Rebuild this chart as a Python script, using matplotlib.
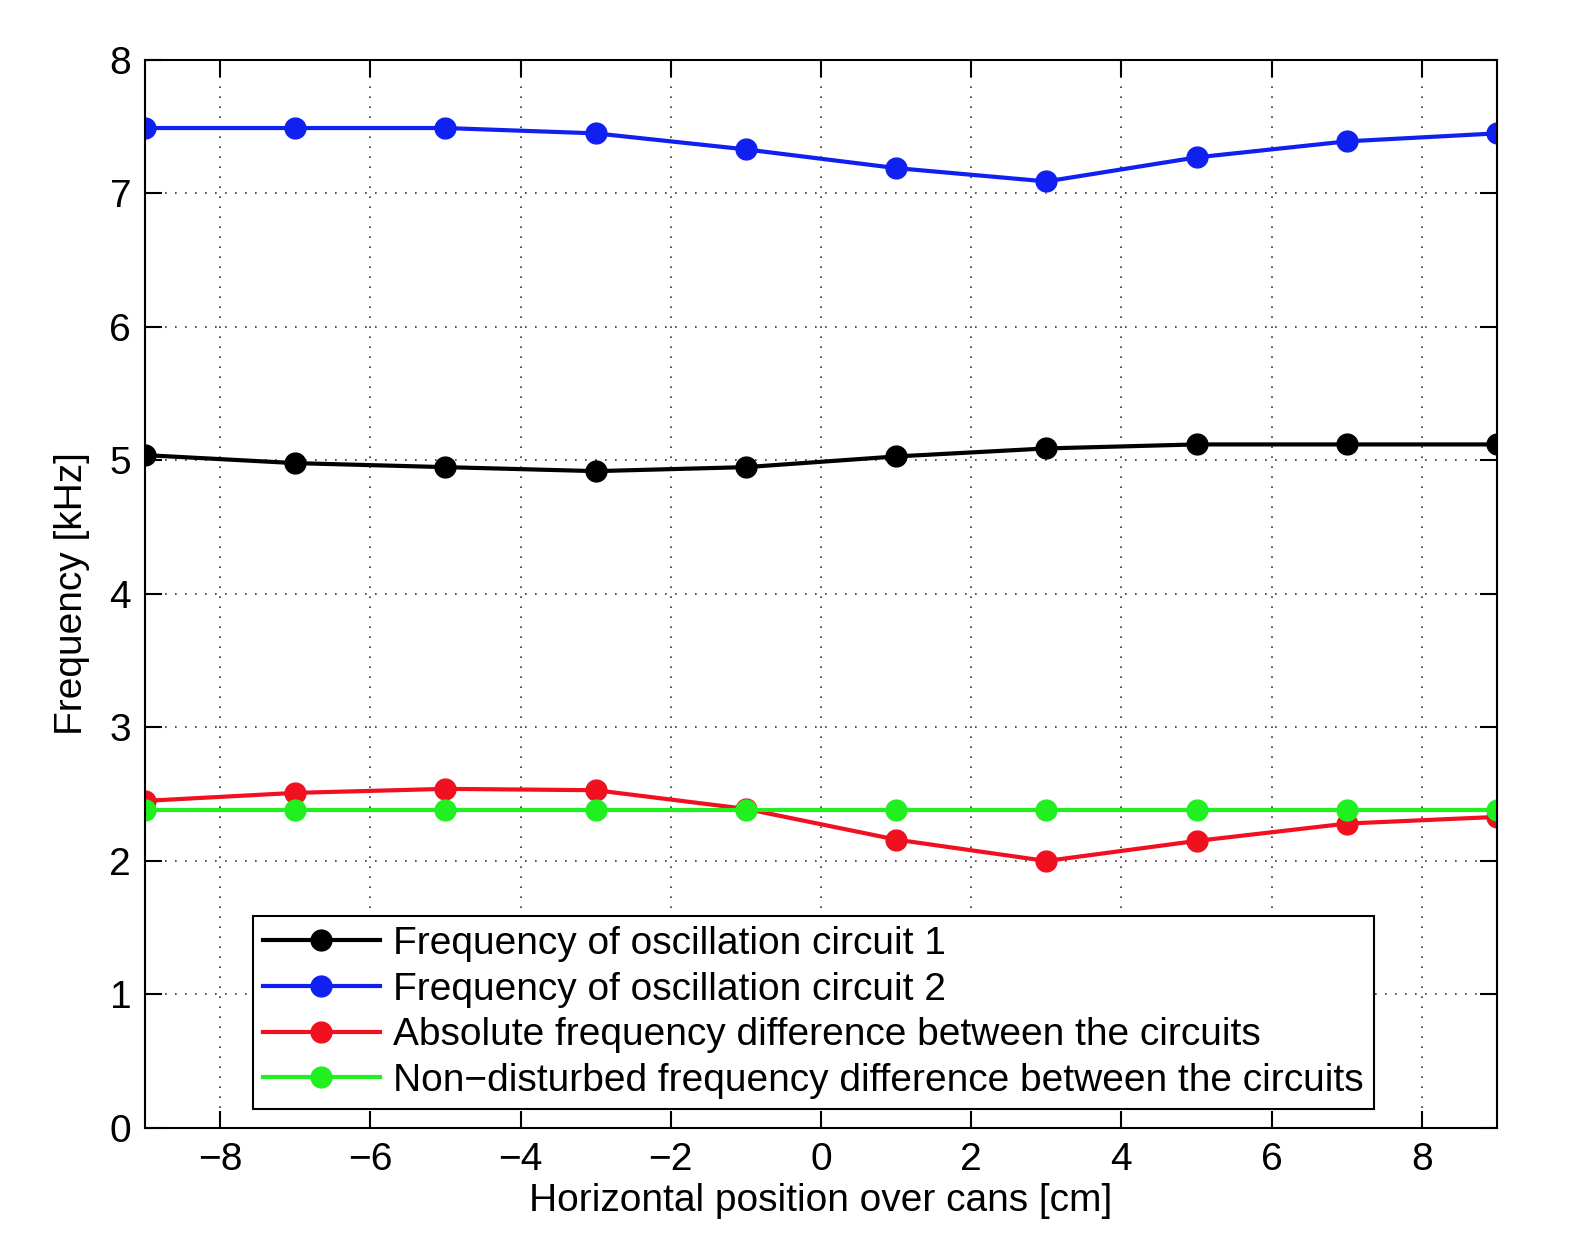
import matplotlib
matplotlib.use("Agg")
import matplotlib.pyplot as plt
import numpy as np

plt.rcParams['font.family'] = ['Liberation Sans', 'DejaVu Sans']

# positions over cans [cm]
pos = [-9, -7, -5, -3, -1, 1, 3, 5, 7, 9]
# frequencies [kHz]
f1 = [5.04, 4.98, 4.95, 4.92, 4.95, 5.03, 5.09, 5.12, 5.12, 5.12]
f2 = [7.49, 7.49, 7.49, 7.45, 7.33, 7.19, 7.09, 7.27, 7.39, 7.45]
fdiff = [2.45, 2.51, 2.54, 2.53, 2.39, 2.16, 2.00, 2.15, 2.28, 2.33]
fref = [2.38, 2.38, 2.38, 2.38, 2.38, 2.38, 2.38, 2.38, 2.38, 2.38]

labels = ["Frequency of oscillation circuit 1",
          "Frequency of oscillation circuit 2",
          "Absolute frequency difference between the circuits",
          "Non\u2212disturbed frequency difference between the circuits"]
colors = ["#000000", "#1020f0", "#f01020", "#20f020"]

fig = plt.figure(figsize=(15.92, 12.54), dpi=100)
ax = fig.add_axes([0.0911, 0.1005, 0.8492, 0.8517])

for ys, c, lab in zip([f1, f2, fdiff, fref], colors, labels):
    ax.plot(pos, ys, '-o', color=c, lw=3, ms=15, label=lab)

ax.set_xlim(-9, 9)
ax.set_ylim(0, 8)
ax.set_xticks(np.arange(-8, 9, 2))
ax.set_yticks(np.arange(0, 9, 1))
ax.set_xticklabels([str(v).replace('-', '\u2212') for v in range(-8, 9, 2)])
ax.tick_params(direction='in', length=12, width=1.5, labelsize=28,
               top=True, right=True, pad=10)
ax.grid(True, linestyle=(0, (1, 5)), color='#333333', lw=1.2)
for s in ax.spines.values():
    s.set_linewidth(1.5)

ax.set_xlabel("Horizontal position over cans [cm]", fontsize=28, labelpad=4)
ax.set_ylabel("Frequency [kHz]", fontsize=28, labelpad=14)

leg = ax.legend(loc='lower left', bbox_to_anchor=(0.08, 0.018), fontsize=28,
                fancybox=False, framealpha=1, edgecolor='black',
                handlelength=3.0, borderpad=0.25, labelspacing=0.25,
                handletextpad=0.35, borderaxespad=0)
leg.get_frame().set_linewidth(1.5)

fig.savefig("out.png", dpi=100)
